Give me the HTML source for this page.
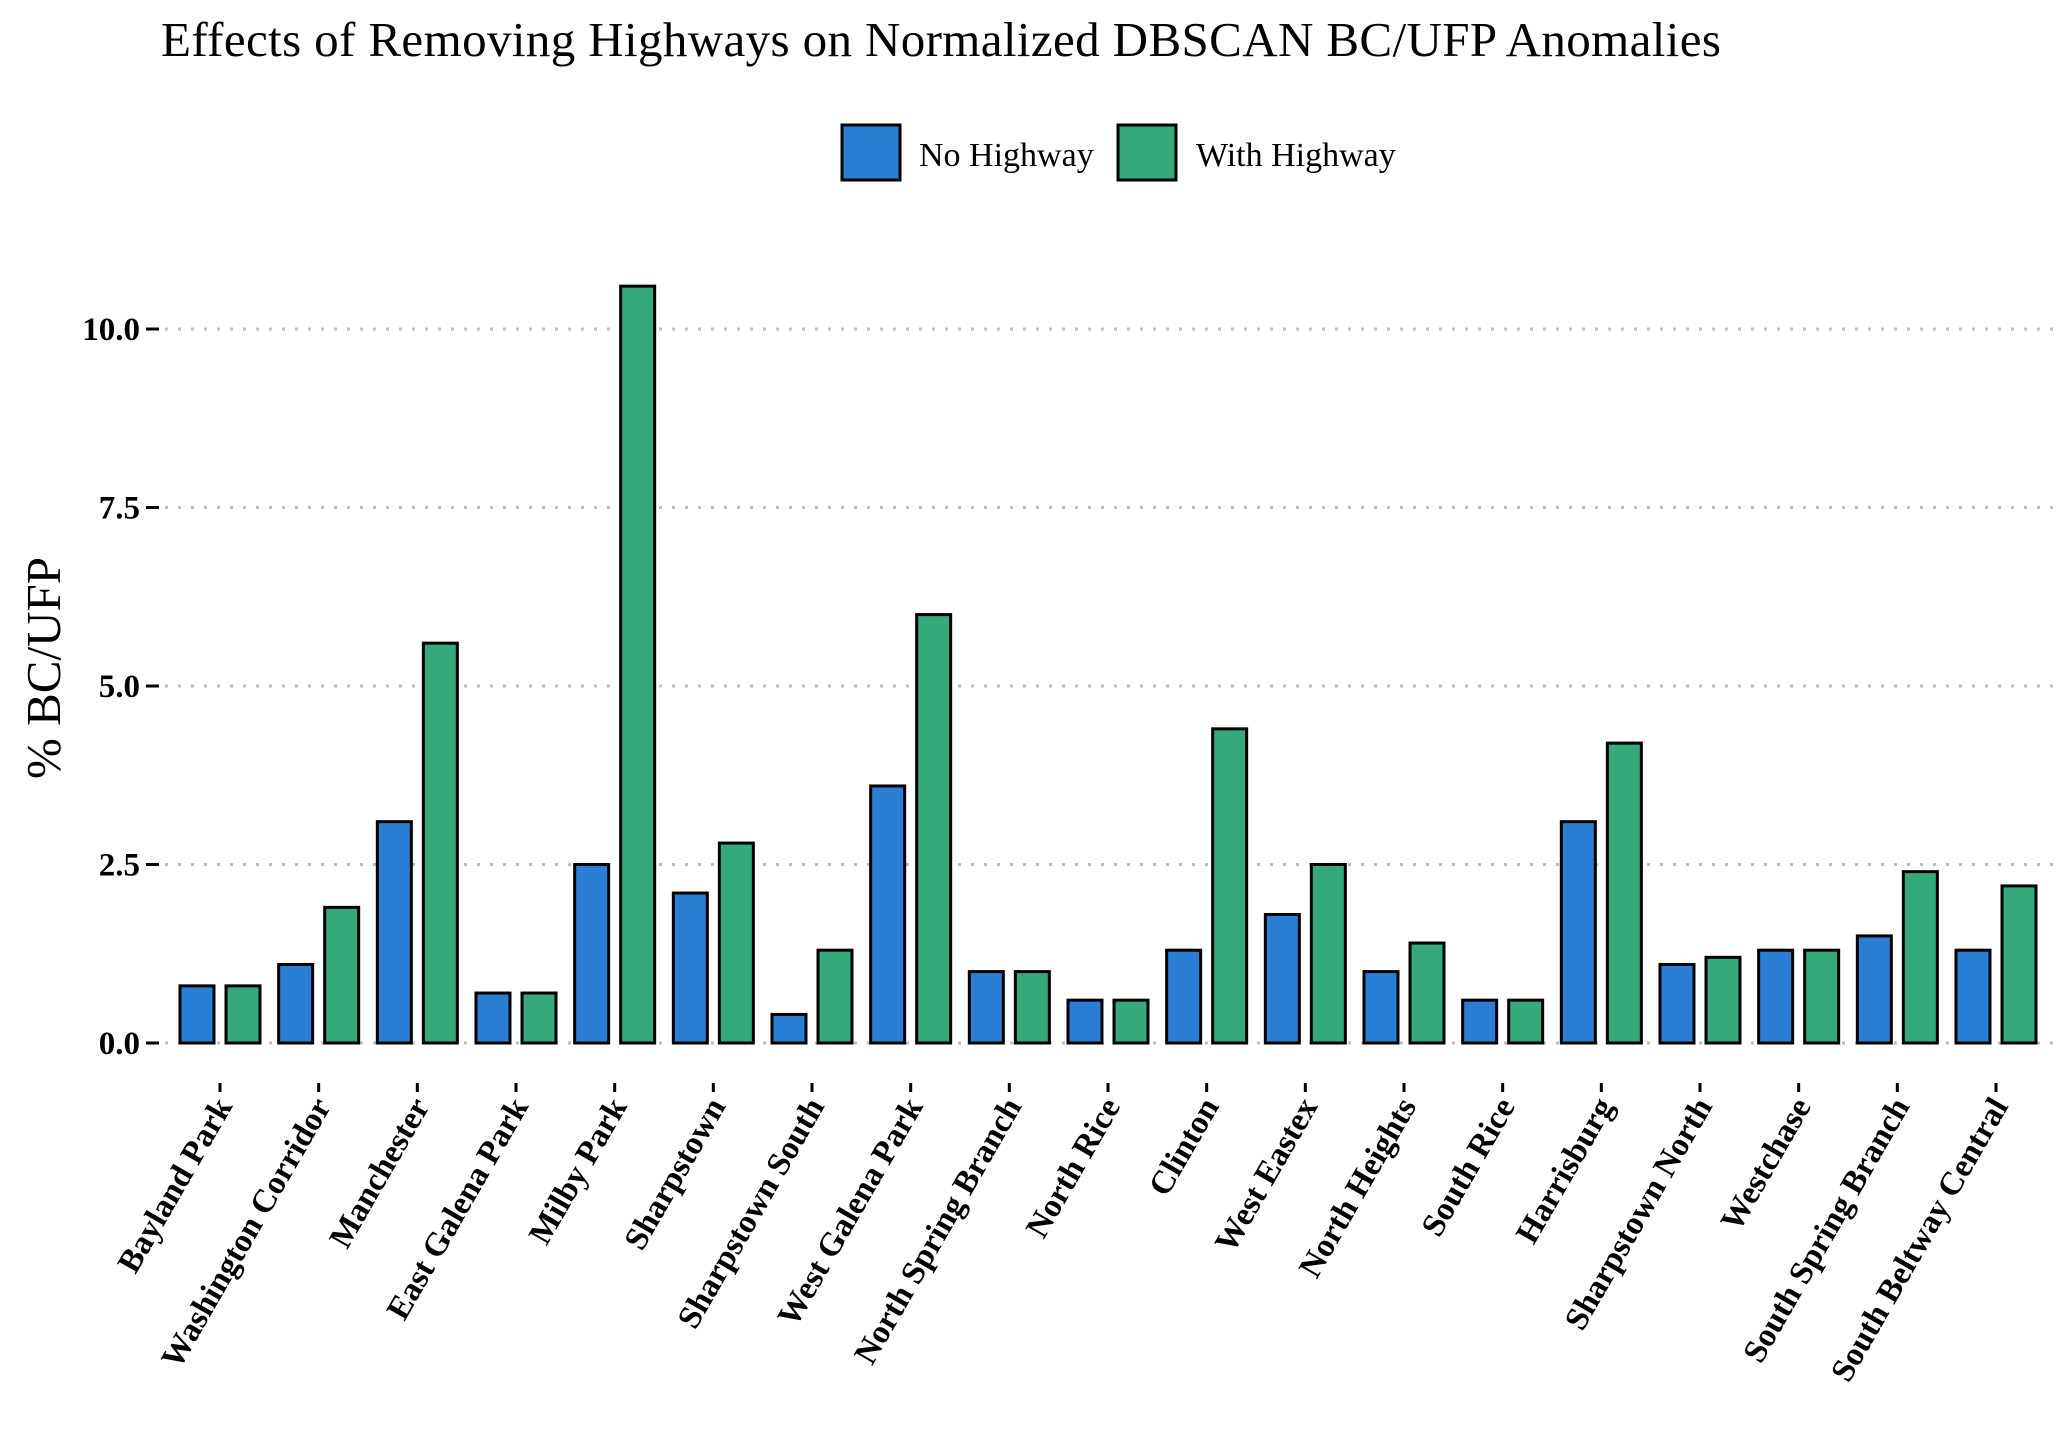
<!DOCTYPE html>
<html><head><meta charset="utf-8"><style>
html,body{margin:0;padding:0;background:#fff;}
svg{display:block;font-family:"Liberation Serif",serif;}
</style></head><body>
<svg id="chart" width="2067" height="1429" viewBox="0 0 2067 1429" xmlns="http://www.w3.org/2000/svg">
<text x="161" y="56" font-size="49" fill="#000" textLength="1560" lengthAdjust="spacing">Effects of Removing Highways on Normalized DBSCAN BC/UFP Anomalies</text>
<g>
<rect x="842" y="125" width="58" height="55" fill="#2a7fd4" stroke="#000" stroke-width="3"/>
<text x="919" y="166" font-size="34">No Highway</text>
<rect x="1118" y="125" width="58" height="55" fill="#35a97b" stroke="#000" stroke-width="3"/>
<text x="1196" y="166" font-size="34">With Highway</text>
</g>
<text transform="translate(60,668) rotate(-90)" text-anchor="middle" font-size="49">% BC/UFP</text>
<g id="grid"></g><g id="yaxis"></g><g id="bars"></g><g id="xaxis"></g>
</svg>
<script>
const categories = ["Bayland Park","Washington Corridor","Manchester","East Galena Park","Milby Park","Sharpstown","Sharpstown South","West Galena Park","North Spring Branch","North Rice","Clinton","West Eastex","North Heights","South Rice","Harrisburg","Sharpstown North","Westchase","South Spring Branch","South Beltway Central"];
const noHighway = [0.8,1.1,3.1,0.7,2.5,2.1,0.4,3.6,1.0,0.6,1.3,1.8,1.0,0.6,3.1,1.1,1.3,1.5,1.3];
const withHighway = [0.8,1.9,5.6,0.7,10.6,2.8,1.3,6.0,1.0,0.6,4.4,2.5,1.4,0.6,4.2,1.2,1.3,2.4,2.2];
const yTicks = [0,2.5,5,7.5,10];
const yTickLabels = ["0.0","2.5","5.0","7.5","10.0"];

const NS="http://www.w3.org/2000/svg";
const y0=1043, yPer=(1043-329)/10;
const yScale=v=>y0-v*yPer;
const x0=220, step=(1996-220)/18;
const xScale=i=>x0+i*step;
const bw=34, gap=12;
function mk(tag,attrs,parent){const e=document.createElementNS(NS,tag);for(const k in attrs)e.setAttribute(k,attrs[k]);parent.appendChild(e);return e;}
const grid=document.getElementById('grid'),yaxis=document.getElementById('yaxis'),bars=document.getElementById('bars'),xaxis=document.getElementById('xaxis');
yTicks.forEach((t,i)=>{
  const y=yScale(t);
  const l=mk('line',{x1:165,x2:2055,y1:y,y2:y,stroke:'#bdbdbd','stroke-width':3,'stroke-dasharray':'3 10'},grid);
  
  
  const tk=mk('line',{x1:146,x2:159,y1:y,y2:y,stroke:'#000','stroke-width':3},yaxis);
  
  
  const tx=mk('text',{x:140,y:y+11,'text-anchor':'end','font-size':33,'font-weight':'bold'},yaxis);
  tx.textContent=yTickLabels[i];
  
  
});
categories.forEach((c,i)=>{
  const cx=xScale(i);
  const b1=mk('rect',{x:cx-gap/2-bw,y:yScale(noHighway[i]),width:bw,height:yScale(0)-yScale(noHighway[i]),fill:'#2a7fd4',stroke:'#000','stroke-width':3},bars);
  
  
  const b2=mk('rect',{x:cx+gap/2,y:yScale(withHighway[i]),width:bw,height:yScale(0)-yScale(withHighway[i]),fill:'#35a97b',stroke:'#000','stroke-width':3},bars);
  
  
  const tk=mk('line',{x1:cx,x2:cx,y1:1083,y2:1092,stroke:'#000','stroke-width':3},xaxis);
  
  
  const tx=mk('text',{transform:`translate(${cx+13},${1106}) rotate(-60)`,'text-anchor':'end','font-size':33,'font-weight':'bold'},xaxis);
  tx.textContent=c;
  
  
});
</script>
</body></html>
